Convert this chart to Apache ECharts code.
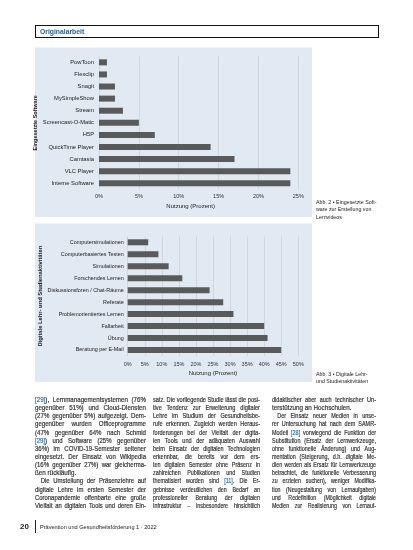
<!DOCTYPE html>
<html><head><meta charset="utf-8">
<script src="https://cdn.jsdelivr.net/npm/echarts@6/dist/echarts.min.js"></script>
<style>
html,body{margin:0;padding:0;background:#fff;}
#wrap{position:relative;width:413px;height:550px;overflow:hidden;}
#chart{position:absolute;left:0;top:0;width:413px;height:550px;}
.nf{font-family:'Liberation Sans',Arial,sans-serif;}
.abs{position:absolute;}
.col{position:absolute;top:396px;font-size:7.3px;line-height:8.15px;color:#333;-webkit-text-stroke:0.2px #333;}
.ln{white-space:nowrap;text-align:justify;text-align-last:justify;height:8.15px;overflow:visible;transform-origin:0 0;}
.ln.last{text-align-last:left;}
.ln.ind{text-indent:7px;}
.ref{color:#2a6db5;-webkit-text-stroke:0.2px #2a6db5;}
</style></head>
<body><div id="wrap">
<div id="chart"></div>
<div class="abs nf" style="left:35px;top:25px;width:342px;height:11px;border:1px solid #111;border-left-width:1.5px;"></div>
<div class="abs nf" style="left:40px;top:26.5px;font-size:6.8px;font-weight:bold;color:#1b5a9f;line-height:9px;">Originalarbeit</div>
<div class="abs nf" style="left:316px;top:199px;font-size:5.3px;line-height:7.3px;color:#222;">Abb. 2 • Eingesetzte Soft-<br>ware zur Erstellung von<br>Lernvideos</div>
<div class="abs nf" style="left:316px;top:370.5px;font-size:5.3px;line-height:7.3px;color:#222;">Abb. 3 • Digitale Lehr-<br>und Studienaktivitäten</div>
<div id="c1" class="col nf" style="left:35px;"></div>
<div id="c2" class="col nf" style="left:153px;"></div>
<div id="c3" class="col nf" style="left:272px;"></div>
<div class="abs nf" style="left:20px;top:522px;font-size:8px;font-weight:bold;color:#222;line-height:10px;">20</div>
<div class="abs" style="left:34.5px;top:520px;width:1px;height:13px;background:#222;"></div>
<div class="abs nf" style="left:40px;top:523.5px;font-size:5.6px;color:#222;line-height:7px;">Prävention und Gesundheitsförderung 1 · 2022</div>
</div>
<script>
// ---- data ----
const softwareCategories = ["PowToon","Flexclip","Snagit","MySimpleShow","Stream","Screencast-O-Matic","H5P","QuickTime Player","Camtasia","VLC Player","Interne Software"];
const softwareValues = [1,1,2,2,3,5,7,14,17,24,24];
const softwareTicks = [0,5,10,15,20,25];
const activityCategories = ["Computersimulationen","Computerbasiertes Testen","Simulationen","Forschendes Lernen","Diskussionsforen / Chat-Räume","Referate","Problemorientiertes Lernen","Fallarbeit","Übung","Beratung per E-Mail"];
const activityValues = [6,9,12,16,24,28,31,40,41,45];
const activityTicks = [0,5,10,15,20,25,30,35,40,45,50];

const column1 = [
 ["<span class='ref'>[29]</span>), Lernmanagementsystemen (76%",""],
 ["gegenüber 51%) und Cloud-Diensten",""],
 ["(27% gegenüber 5%) aufgezeigt. Dem-",""],
 ["gegenüber wurden Officeprogramme",""],
 ["(47% gegenüber 64% nach Schmid",""],
 ["<span class='ref'>[29]</span>) und Software (25% gegenüber",""],
 ["36%) im COVID-19-Semester seltener",""],
 ["eingesetzt. Der Einsatz von Wikipedia",""],
 ["(16% gegenüber 27%) war gleicherma-",""],
 ["ßen rückläufig.","last"],
 ["Die Umstellung der Präsenzlehre auf","ind"],
 ["digitale Lehre im ersten Semester der",""],
 ["Coronapandemie offenbarte eine große",""],
 ["Vielfalt an digitalen Tools und deren Ein-",""]
];
const column2 = [
 ["satz. Die vorliegende Studie lässt die posi-",""],
 ["tive Tendenz zur Erweiterung digitaler",""],
 ["Lehre im Studium der Gesundheitsbe-",""],
 ["rufe erkennen. Zugleich werden Heraus-",""],
 ["forderungen bei der Vielfalt der digita-",""],
 ["len Tools und der adäquaten Auswahl",""],
 ["beim Einsatz der digitalen Technologien",""],
 ["erkennbar, die bereits vor dem ers-",""],
 ["ten digitalen Semester ohne Präsenz in",""],
 ["zahlreichen Publikationen und Studien",""],
 ["thematisiert worden sind <span class='ref'>[11]</span>. Die Er-",""],
 ["gebnisse verdeutlichen den Bedarf an",""],
 ["professioneller Beratung der digitalen",""],
 ["Infrastruktur – insbesondere hinsichtlich",""]
];
const column3 = [
 ["didaktischer aber auch technischer Un-",""],
 ["terstützung an Hochschulen.","last"],
 ["Der Einsatz neuer Medien in unse-","ind"],
 ["rer Untersuchung hat nach dem SAMR-",""],
 ["Modell <span class='ref'>[28]</span> vorwiegend die Funktion der",""],
 ["Substitution (Ersatz der Lernwerkzeuge,",""],
 ["ohne funktionelle Änderung) und Aug-",""],
 ["mentation (Steigerung, d.h. digitale Me-",""],
 ["dien werden als Ersatz für Lernwerkzeuge",""],
 ["betrachtet, die funktionelle Verbesserung",""],
 ["zu erzielen suchen), weniger Modifika-",""],
 ["tion (Neugestaltung von Lernaufgaben)",""],
 ["und Redefinition (Möglichkeit digitale",""],
 ["Medien zur Realisierung von Lernauf-",""]
];
const SXMAX = 0.86;
function fill(id, lines, w){
  const el = document.getElementById(id);
  el.innerHTML = lines.map(l=>"<div class='ln "+l[1]+"'><span>"+l[0]+"</span></div>").join("");
  Array.from(el.children).forEach((d,i)=>{
    const nat = d.firstChild.getBoundingClientRect().width + (lines[i][1]==='ind'?7:0);
    const s = Math.min(SXMAX, (w-0.5)/nat);
    d.style.width = (w/s)+"px";
    d.style.transform = "scaleX("+s+")";
  });
}
fill("c1",column1,111);fill("c2",column2,107);fill("c3",column3,104);

const FF = "'Liberation Sans',Arial,sans-serif";
const chart = echarts.init(document.getElementById('chart'), null, {renderer:'canvas'});
function xAx(idx, ticks, gap){
  return {gridIndex:idx, type:'value', min:ticks[0], max:ticks[ticks.length-1], interval:ticks[1]-ticks[0],
    axisLabel:{formatter:'{value}%', fontSize:5.5, color:'#333', margin:gap, fontFamily:FF},
    splitLine:{show:true, lineStyle:{color:'#c8cfd8', width:0.7}},
    axisLine:{show:false}, axisTick:{show:false},
    name:'Nutzung (Prozent)', nameLocation:'middle', nameGap:14,
    nameTextStyle:{fontSize:6, color:'#222', fontFamily:FF}};
}
function yAx(idx, cats, name, gap, margin, fs, nfs){
  return {gridIndex:idx, type:'category', inverse:true, data:cats,
    axisLabel:{fontSize:fs, color:'#222', margin:margin, fontFamily:FF},
    axisLine:{show:false}, axisTick:{show:false},
    name:name, nameLocation:'middle', nameRotate:90, nameGap:gap,
    nameTextStyle:{fontSize:nfs, color:'#222', fontWeight:'bold', fontFamily:FF}};
}
const x1 = xAx(0, softwareTicks, 4.5); x1.nameTextStyle.padding=[0,16,0,0];
chart.setOption({
  animation:false,
  graphic:{elements:[
    {type:'rect', z:-100, silent:true, shape:{x:35,y:47.5,width:277,height:169.5}, style:{fill:'#e1e9f2'}},
    {type:'rect', z:-100, silent:true, shape:{x:35,y:223.5,width:277,height:158.5}, style:{fill:'#e1e9f2'}}
  ]},
  grid:[
    {left:99, top:56.3, width:199.3, height:133},
    {left:127.7, top:236.3, width:170.6, height:119.7}
  ],
  xAxis:[x1, xAx(1, activityTicks, 5)],
  yAxis:[yAx(0, softwareCategories, 'Eingesetzte Software', 53, 5, 5.8, 5.5), yAx(1, activityCategories, 'Digitale Lehr- und Studienaktivitäten', 81, 4, 5.4, 5.8)],
  series:[
    {type:'bar', xAxisIndex:0, yAxisIndex:0, data:softwareValues, barWidth:6, itemStyle:{color:'#5a5a5a'}},
    {type:'bar', xAxisIndex:1, yAxisIndex:1, data:activityValues, barWidth:6, itemStyle:{color:'#5a5a5a'}}
  ]
});
</script>
</body></html>
